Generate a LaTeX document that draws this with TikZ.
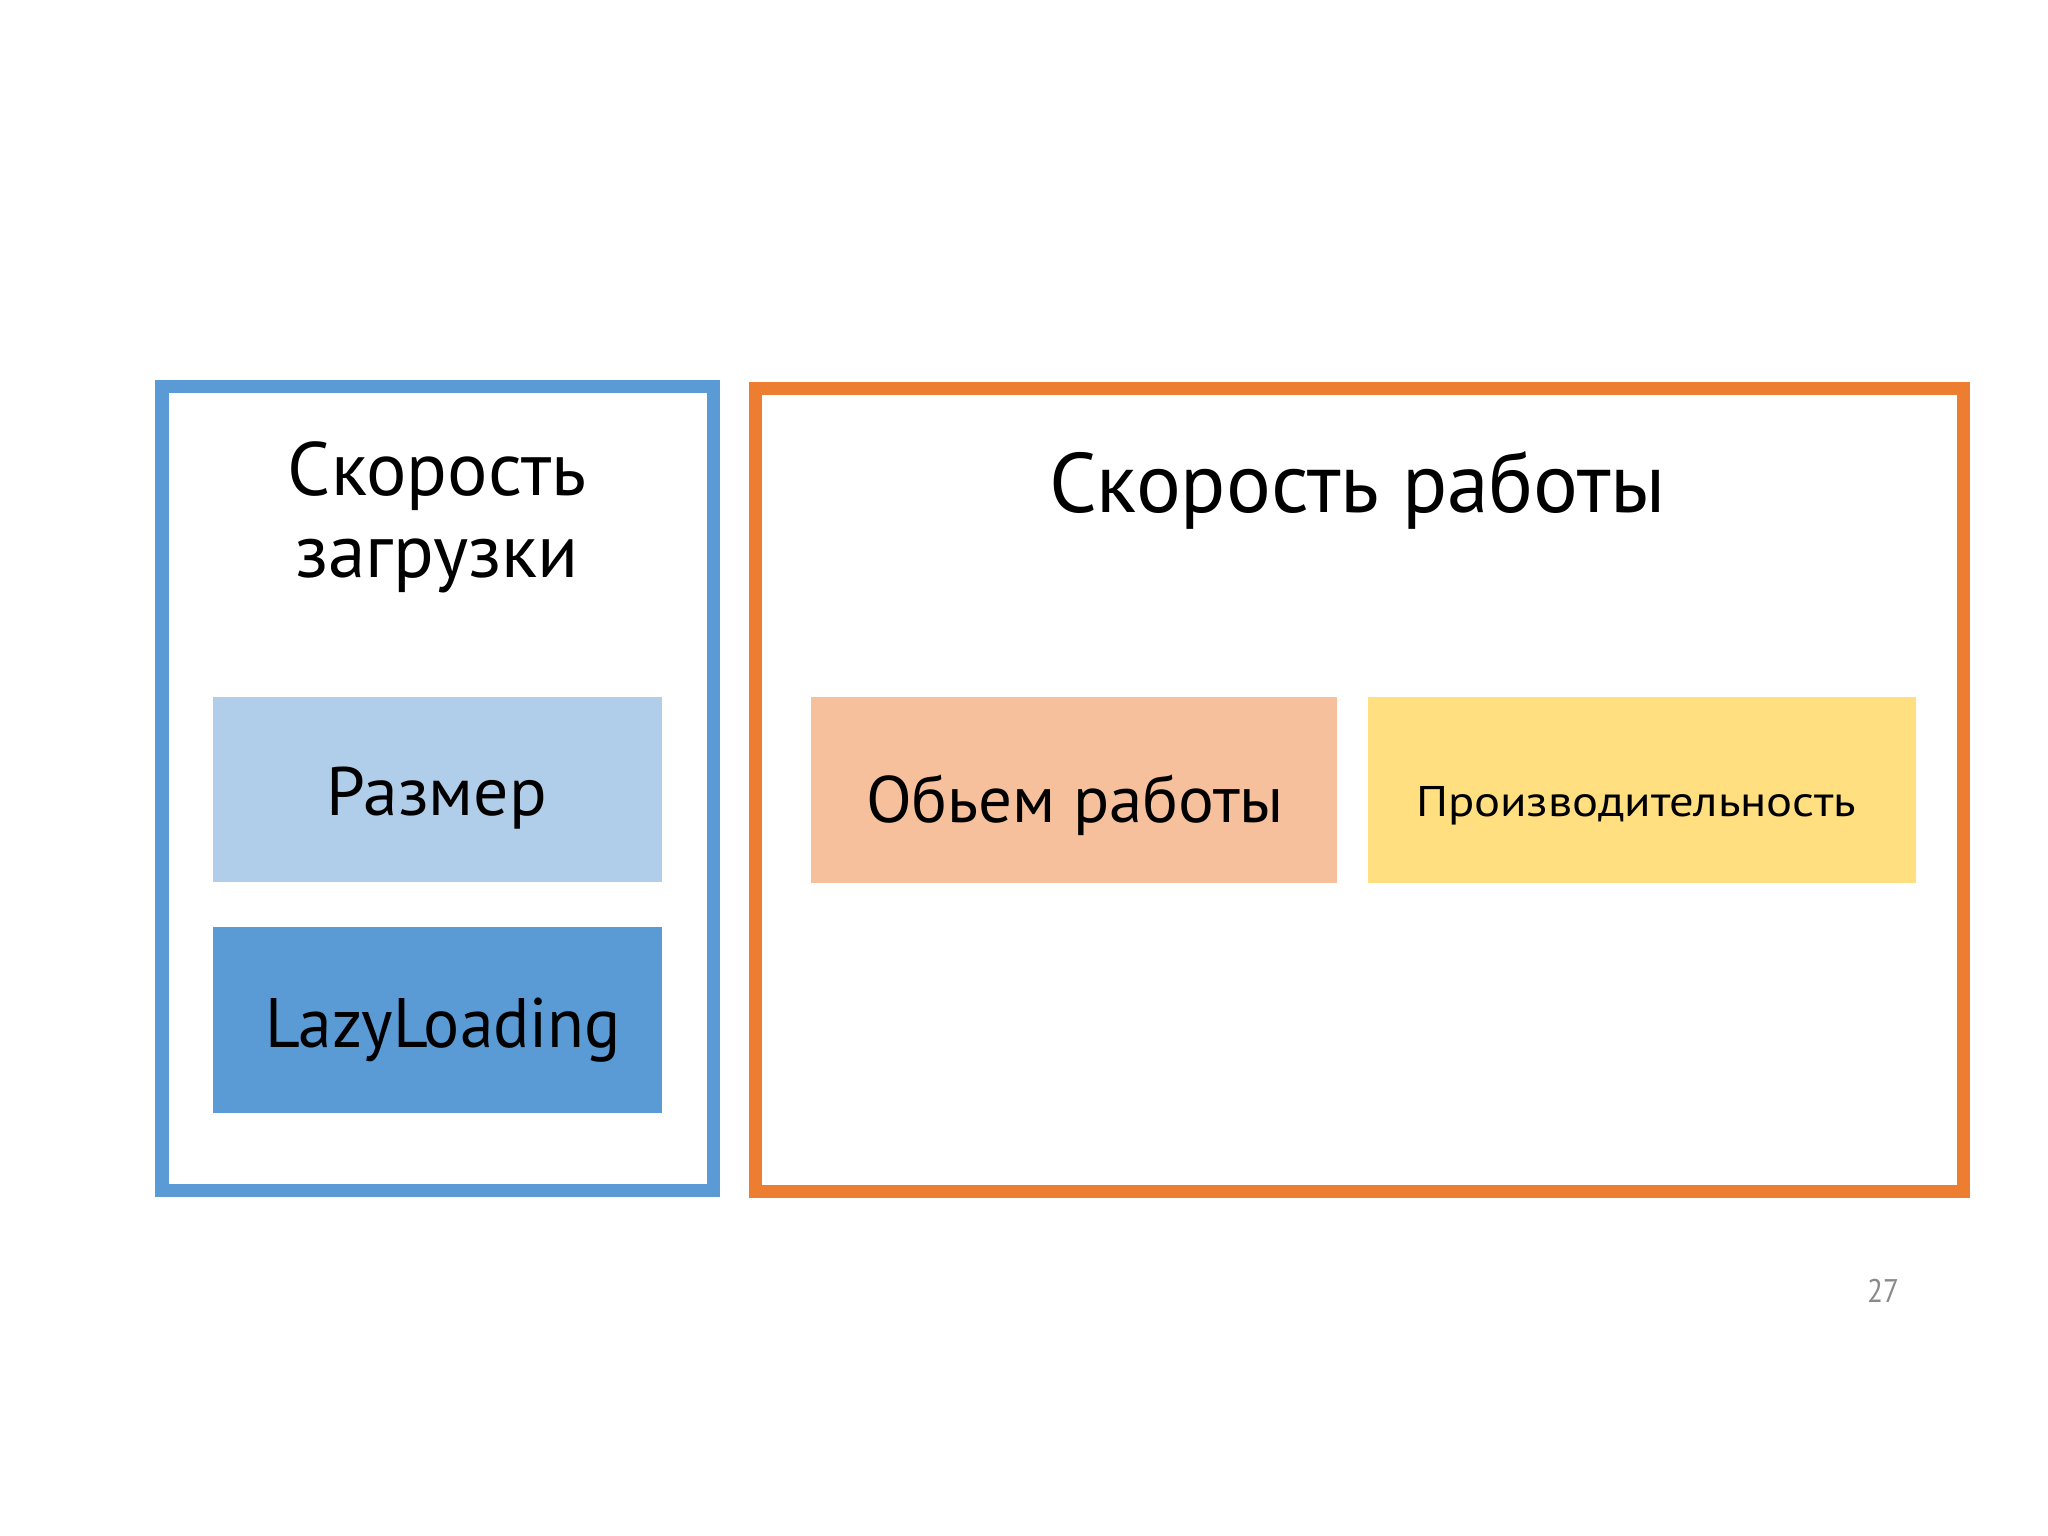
\documentclass[tikz,border=0pt]{standalone}
\usepackage{fontspec}
\setmainfont{PT Sans}
\usepackage{graphicx}
\definecolor{frameblue}{HTML}{5B9BD5}
\definecolor{lightblue}{HTML}{B0CDE9}
\definecolor{frameorange}{HTML}{ED7D31}
\definecolor{peach}{HTML}{F5C09B}
\definecolor{paleyellow}{HTML}{FFDF80}
\definecolor{pagegray}{HTML}{8A8A8A}
\newcommand{\fitto}[2]{\resizebox{#1}{\height}{#2}}
\tikzset{
  frame/.style={draw, line width=13*0.2845pt},
  filledbox/.style={draw=none, inner sep=0pt, outer sep=0pt},
  lbl/.style={anchor=base, inner sep=0pt, outer sep=0pt, text=black},
}
\begin{document}
\begin{tikzpicture}[x=0.01cm, y=-0.01cm]
\useasboundingbox[fill=white] (0,0) rectangle (2048,1536);
% frames
\draw[frame, frameblue] (162,386) rectangle (713,1190);
\draw[frame, frameorange] (755,388) rectangle (1963,1191);
% boxes
\node[filledbox, fill=lightblue, minimum width=449*0.01cm, minimum height=185*0.01cm] (razmer) at (437.5,789.5) {};
\node[filledbox, fill=frameblue, minimum width=449*0.01cm, minimum height=186*0.01cm] (lazy) at (437.5,1020) {};
\node[filledbox, fill=peach, minimum width=526*0.01cm, minimum height=186*0.01cm] (obem) at (1074,790) {};
\node[filledbox, fill=paleyellow, minimum width=548*0.01cm, minimum height=186*0.01cm] (proizv) at (1642,790) {};
% titles
\node[lbl, font=\fontsize{21.5}{26}\selectfont] (t1a) at (437,495) {\fitto{298\dimexpr0.01cm\relax}{Скорость}};
\node[lbl, font=\fontsize{21.5}{26}\selectfont] (t1b) at (437,577) {\fitto{284\dimexpr0.01cm\relax}{загрузки}};
\node[lbl, font=\fontsize{24}{29}\selectfont] (t2) at (1357.5,512) {\fitto{617\dimexpr0.01cm\relax}{Скорость работы}};
% box labels
\node[lbl, font=\fontsize{19.5}{23}\selectfont] (l1) at (437,815) {\fitto{220\dimexpr0.01cm\relax}{Размер}};
\node[lbl, font=\fontsize{19.9}{24}\selectfont] (l2) at (443,1047) {\fitto{356\dimexpr0.01cm\relax}{LazyLoading}};
\node[lbl, font=\fontsize{18.7}{22}\selectfont] (l3) at (1075,822) {\fitto{418\dimexpr0.01cm\relax}{Обьем работы}};
\node[lbl, font=\fontsize{12.2}{15}\selectfont] (l4) at (1636,816) {\fitto{440\dimexpr0.01cm\relax}{Производительность}};
% page number
\node[lbl, text=pagegray, font=\fontsize{9.3}{11}\selectfont] (pg) at (1883,1302) {\fitto{32\dimexpr0.01cm\relax}{27}};
\end{tikzpicture}
\end{document}
